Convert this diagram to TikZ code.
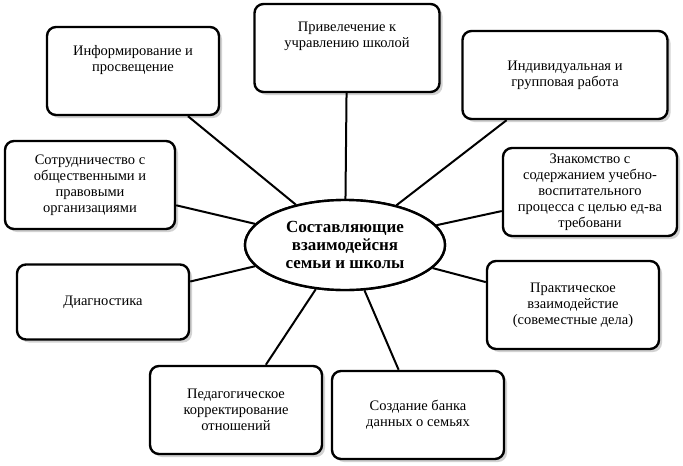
\documentclass[tikz,border=0pt]{standalone}
\usepackage{fontspec}
\setmainfont{Liberation Serif}
\usetikzlibrary{shadows,shapes.geometric}
\tikzset{
  topic/.style={draw, line width=2.4pt, rounded corners=9pt, fill=white,
    minimum width=172pt, minimum height=88pt, align=center, font=\fontsize{14.5}{16}\selectfont,
    drop shadow={shadow xshift=3pt, shadow yshift=-3pt, fill=black!35}},
  hub/.style={draw, line width=2.4pt, ellipse, minimum width=200pt, minimum height=90pt, fill=white,
    align=center, inner sep=0pt, font=\fontsize{17}{18}\selectfont\bfseries},
  link/.style={line width=2pt}
}
\begin{document}
\begin{tikzpicture}[x=1pt,y=-1pt]
\useasboundingbox (0,0) rectangle (683,466);
\node[hub] (core) at (345,245) {Составляющие\\взаимодейсня\\семьи и школы};
\node[topic] (inform) at (133,71) {Информирование и\\просвещение\\[10pt]};
\node[topic, minimum width=185pt] (attract) at (347,48) {Привелечение к\\учравлению школой\\[10pt]};
\node[topic, minimum width=205pt] (indiv) at (565,75) {Индивидуальная и\\групповая работа};
\node[topic, minimum width=174pt, inner sep=1pt] (acq) at (590,192) {Знакомство с\\содержанием учебно-\\воспитательного\\процесса с целью ед-ва\\требовани};
\node[topic] (pract) at (573,305) {Практическое\\взаимодейстие\\(совеместные дела)};
\node[topic] (bank) at (418,415) {Создание банка\\данных о семьях};
\node[topic] (pedag) at (236,410) {Педагогическое\\корректирование\\отношений};
\node[topic, minimum height=75pt] (diag) at (103,302) {Диагностика};
\node[topic, minimum width=170pt] (coop) at (90,185) {Сотрудничество с\\общественными и\\правовыми\\организациями};
\foreach \t in {inform,attract,indiv,acq,pract,bank,pedag,diag,coop}
  \draw[link] (core) -- (\t);
\node[hub] at (345,245) {Составляющие\\взаимодейсня\\семьи и школы};
\end{tikzpicture}
\end{document}
